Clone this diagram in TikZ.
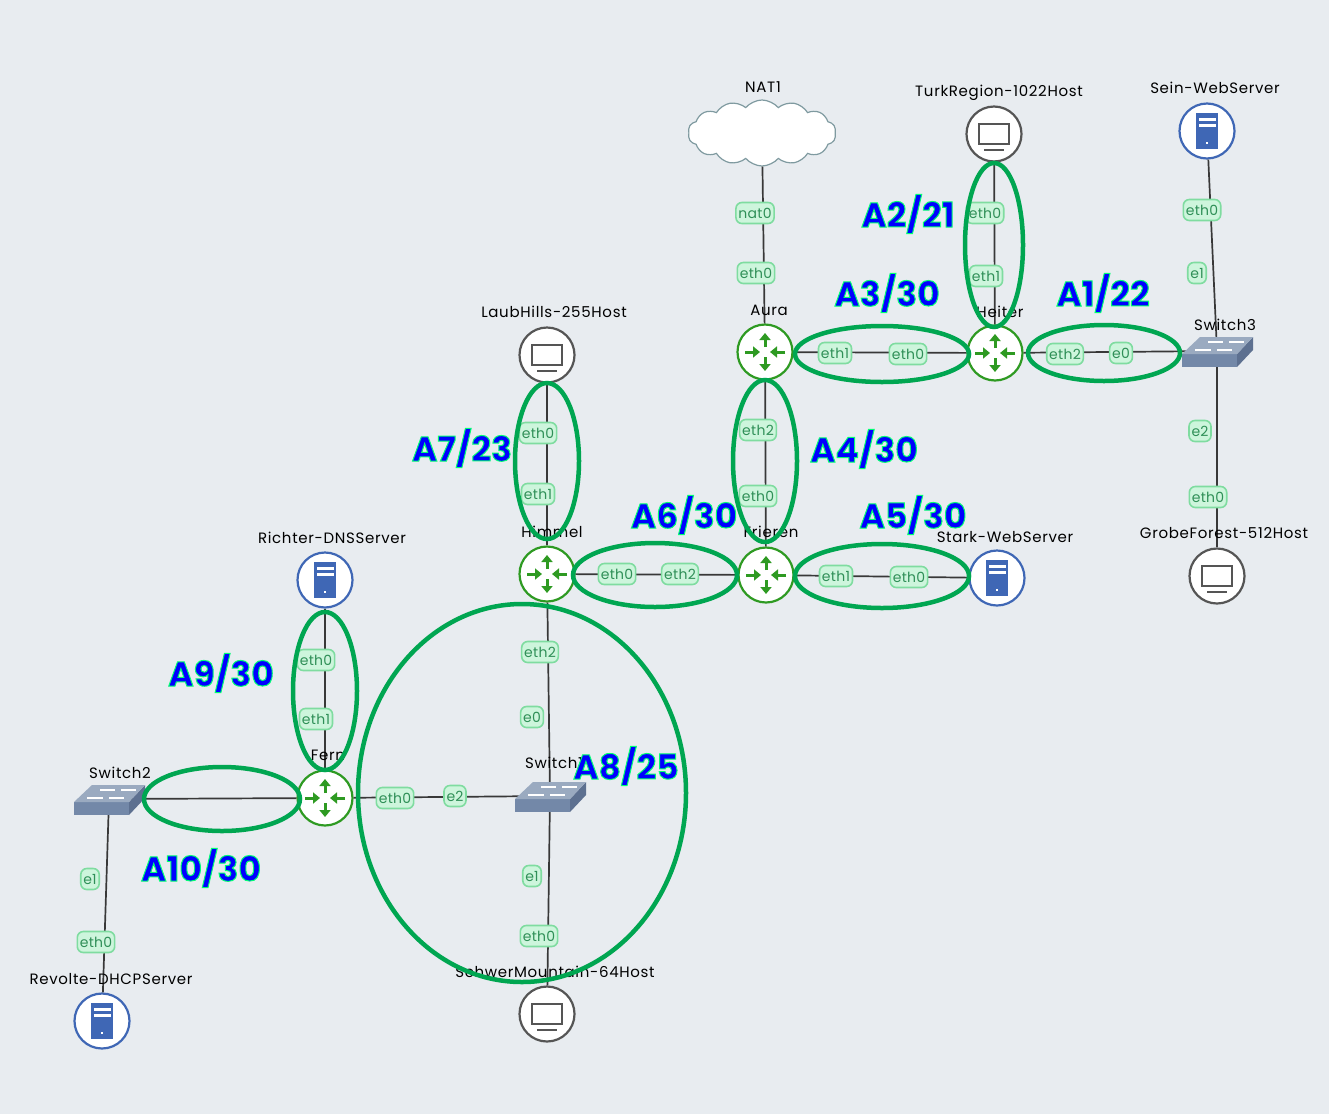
\documentclass[tikz,border=0pt]{standalone}
\usepackage{fontspec}
\setmainfont{Poppins}
\usetikzlibrary{shapes, arrows.meta, positioning}
\definecolor{bgcol}{HTML}{E8ECF0}
\definecolor{areacol}{HTML}{00A651}
\definecolor{routercol}{HTML}{2E9A22}
\definecolor{servercol}{HTML}{3F67B5}
\definecolor{hostcol}{HTML}{555555}
\definecolor{portfill}{HTML}{CDF5DC}
\definecolor{portdraw}{HTML}{7FDCA0}
\definecolor{porttext}{HTML}{2F8F57}
\definecolor{switchcol}{HTML}{7388A8}
\definecolor{switchdark}{HTML}{5D7090}
\definecolor{switchtop}{HTML}{9AAAC0}
\definecolor{cloudcol}{HTML}{7F9AA0}
\newcommand{\areatext}[1]{\special{pdf:code q 2 Tr 1 w 0 1 0.45 RG}#1\special{pdf:code Q}}
\tikzset{
    link/.style={draw=black!78, line width=1.7pt},
    area/.style={draw=areacol, line width=4.5pt},
    arealabel/.style={text=blue, font=\bfseries\fontsize{34.5}{35}\selectfont},
    port/.style={draw=portdraw, fill=portfill, text=porttext, rounded corners=6pt, line width=1.6pt,
        inner xsep=2.5pt, inner ysep=1pt, minimum height=21pt,
        font=\fontsize{14}{15}\selectfont\addfontfeature{LetterSpace=2}},
    devname/.style={text=black, font=\fontsize{15}{16}\selectfont\addfontfeature{LetterSpace=4.5}},
    icon/.style={circle, fill=white, minimum size=55pt, inner sep=0pt, line width=2.2pt},
    routernode/.style={icon, draw=routercol},
    servernode/.style={icon, draw=servercol},
    hostnode/.style={icon, draw=hostcol},
    switchnode/.style={minimum width=68pt, minimum height=32pt, inner sep=0pt},
    pics/routerpic/.style={code={
        \foreach \a in {0,180}{
            \draw[routercol, line width=3pt, -{Triangle[length=7pt,width=11pt]}, rotate=\a] (20pt,0) -- (5pt,0);
        }
        \foreach \a in {90,270}{
            \draw[routercol, line width=3pt, -{Triangle[length=7pt,width=11pt]}, rotate=\a] (5pt,0) -- (19pt,0);
        }
    }},
    pics/hostpic/.style={code={
        \draw[hostcol, line width=1.8pt, fill=white] (-15pt,-10pt) rectangle (15pt,10pt);
        \draw[hostcol, line width=1.5pt] (-10pt,-16pt) -- (10pt,-16pt);
    }},
    pics/serverpic/.style={code={
        \fill[servercol] (-11pt,-18pt) rectangle (11pt,18pt);
        \fill[white] (-8.5pt,13pt) rectangle (8.5pt,10pt);
        \fill[white] (-8.5pt,7pt) rectangle (8.5pt,4pt);
        \fill[white] (-1pt,-12.5pt) rectangle (1pt,-10.5pt);
    }},
    pics/switchpic/.style={code={
        \fill[switchcol] (-35pt,-3pt) -- (-35pt,-16pt) -- (20pt,-16pt) -- (20pt,-3pt) -- cycle;
        \fill[switchdark] (20pt,-3pt) -- (20pt,-16pt) -- (36pt,1pt) -- (36pt,14pt) -- cycle;
        \fill[switchtop] (-35pt,-3pt) -- (-17pt,14pt) -- (36pt,14pt) -- (20pt,-3pt) -- cycle;
        \draw[white, line width=1.6pt] (-9pt,9pt) -- (6pt,9pt) (12pt,9pt) -- (27pt,9pt)
            (-22pt,1pt) -- (-6pt,1pt) (0pt,1pt) -- (15pt,1pt);
    }},
}
\begin{document}
\begin{tikzpicture}[x=1pt, y=-1pt]
    \useasboundingbox[fill=bgcol] (0,0) rectangle (1329,1114);
    % devices
    \node[cloud, cloud puffs=14, cloud puff arc=100, aspect=2.4, draw=cloudcol, fill=white, line width=1.2pt,
        minimum width=148pt, minimum height=66pt, inner sep=0pt] (nat) at (762,133) {};
    \node[hostnode] (turk) at (994,134) {};
    \node[servernode] (sein) at (1207,131) {};
    \node[routernode] (aura) at (765,352) {};
    \node[routernode] (heiter) at (995,353) {};
    \node[switchnode] (sw3) at (1217,351) {};
    \node[hostnode] (laub) at (547,355) {};
    \node[routernode] (himmel) at (547,574) {};
    \node[routernode] (frieren) at (766,575) {};
    \node[servernode] (stark) at (997,578) {};
    \node[hostnode] (grobe) at (1217,576) {};
    \node[servernode] (richter) at (325,580) {};
    \node[routernode] (fern) at (325,798) {};
    \node[switchnode] (sw1) at (550,796) {};
    \node[switchnode] (sw2) at (109,799) {};
    \node[servernode] (revolte) at (102,1021) {};
    \node[hostnode] (schwer) at (547,1014) {};
    % links
    \draw[link] (nat) -- (aura);
    \draw[link] (turk) -- (heiter);
    \draw[link] (sein) -- (sw3.center);
    \draw[link] (aura) -- (heiter);
    \draw[link] (heiter) -- (sw3.center);
    \draw[link] (sw3.center) -- (grobe);
    \draw[link] (aura) -- (frieren);
    \draw[link] (laub) -- (himmel);
    \draw[link] (himmel) -- (frieren);
    \draw[link] (frieren) -- (stark);
    \draw[link] (himmel) -- (sw1.center);
    \draw[link] (richter) -- (fern);
    \draw[link] (fern) -- (sw1.center);
    \draw[link] (fern) -- (sw2.center);
    \draw[link] (sw1.center) -- (schwer);
    \draw[link] (sw2.center) -- (revolte);
    % icons
    \foreach \r in {aura,heiter,himmel,frieren,fern}{
        \pic at (\r) {routerpic};
    }
    \foreach \h in {turk,laub,grobe,schwer}{
        \pic at (\h) {hostpic};
    }
    \foreach \s in {sein,stark,richter,revolte}{
        \pic at (\s) {serverpic};
    }
    \foreach \w in {sw1,sw2,sw3}{
        \pic at (\w) {switchpic};
    }
    % names
    \node[devname] (n1) at (763,87) {NAT1};
    \node[devname] (n2) at (999,93) {TurkRegion-1022Host};
    \node[devname] (n3) at (1215,88) {Sein-WebServer};
    \node[devname] (n4) at (769,310) {Aura};
    \node[devname] (n5) at (1000,312) {Heiter};
    \node[devname] (n6) at (1225,325) {Switch3};
    \node[devname] (n7) at (554,312) {LaubHills-255Host};
    \node[devname] (n8) at (552,532) {Himmel};
    \node[devname] (n9) at (771,532) {Frieren};
    \node[devname] (n10) at (1005,537) {Stark-WebServer};
    \node[devname] (n11) at (1224,533) {GrobeForest-512Host};
    \node[devname] (n12) at (332,538) {Richter-DNSServer};
    \node[devname] (n13) at (328,755) {Fern};
    \node[devname] (n14) at (554,763) {Switch1};
    \node[devname] (n15) at (120,773) {Switch2};
    \node[devname] (n16) at (111,979) {Revolte-DHCPServer};
    \node[devname] (n17) at (555,972) {SchwerMountain-64Host};
    % ports
    \node[port] (p1) at (755,213) {nat0};
    \node[port] (p2) at (756,273) {eth0};
    \node[port] (p3) at (985,213) {eth0};
    \node[port] (p4) at (986,276) {eth1};
    \node[port] (p5) at (1202,210) {eth0};
    \node[port] (p6) at (1197,273) {e1};
    \node[port] (p7) at (835,353) {eth1};
    \node[port] (p8) at (908,354) {eth0};
    \node[port] (p9) at (1065,354) {eth2};
    \node[port] (p10) at (1121,353) {e0};
    \node[port] (p11) at (1200,431) {e2};
    \node[port] (p12) at (1208,497) {eth0};
    \node[port] (p13) at (758,430) {eth2};
    \node[port] (p14) at (758,496) {eth0};
    \node[port] (p15) at (538,433) {eth0};
    \node[port] (p16) at (538,494) {eth1};
    \node[port] (p17) at (617,574) {eth0};
    \node[port] (p18) at (680,574) {eth2};
    \node[port] (p19) at (836,576) {eth1};
    \node[port] (p20) at (909,577) {eth0};
    \node[port] (p21) at (540,652) {eth2};
    \node[port] (p22) at (532,717) {e0};
    \node[port] (p23) at (532,876) {e1};
    \node[port] (p24) at (539,936) {eth0};
    \node[port] (p25) at (316,660) {eth0};
    \node[port] (p26) at (316,719) {eth1};
    \node[port] (p27) at (395,798) {eth0};
    \node[port] (p28) at (455,796) {e2};
    \node[port] (p29) at (90,879) {e1};
    \node[port] (p30) at (96,942) {eth0};
    % areas
    \draw[area] (994,245) ellipse (29 and 82);
    \draw[area] (882,354) ellipse (87 and 28);
    \draw[area] (1104,353) ellipse (76 and 28);
    \draw[area] (765,461) ellipse (32 and 81);
    \draw[area] (547,461) ellipse (32 and 78);
    \draw[area] (655,575) ellipse (82 and 32);
    \draw[area] (882,576) ellipse (87 and 32);
    \draw[area] (325,691) ellipse (32 and 79);
    \draw[area] (522,793) ellipse (164 and 189);
    \draw[area] (222,799) ellipse (78 and 32);
    \node[arealabel] (a1) at (1103,293) {\areatext{A1/22}};
    \node[arealabel] (a2) at (908,214) {\areatext{A2/21}};
    \node[arealabel] (a3) at (887,293) {\areatext{A3/30}};
    \node[arealabel] (a4) at (864,449) {\areatext{A4/30}};
    \node[arealabel] (a5) at (913,515) {\areatext{A5/30}};
    \node[arealabel] (a6) at (684,515) {\areatext{A6/30}};
    \node[arealabel] (a7) at (462,448) {\areatext{A7/23}};
    \node[arealabel] (a8) at (626,766) {\areatext{A8/25}};
    \node[arealabel] (a9) at (221,673) {\areatext{A9/30}};
    \node[arealabel] (a10) at (201,868) {\areatext{A10/30}};
\end{tikzpicture}
\end{document}
